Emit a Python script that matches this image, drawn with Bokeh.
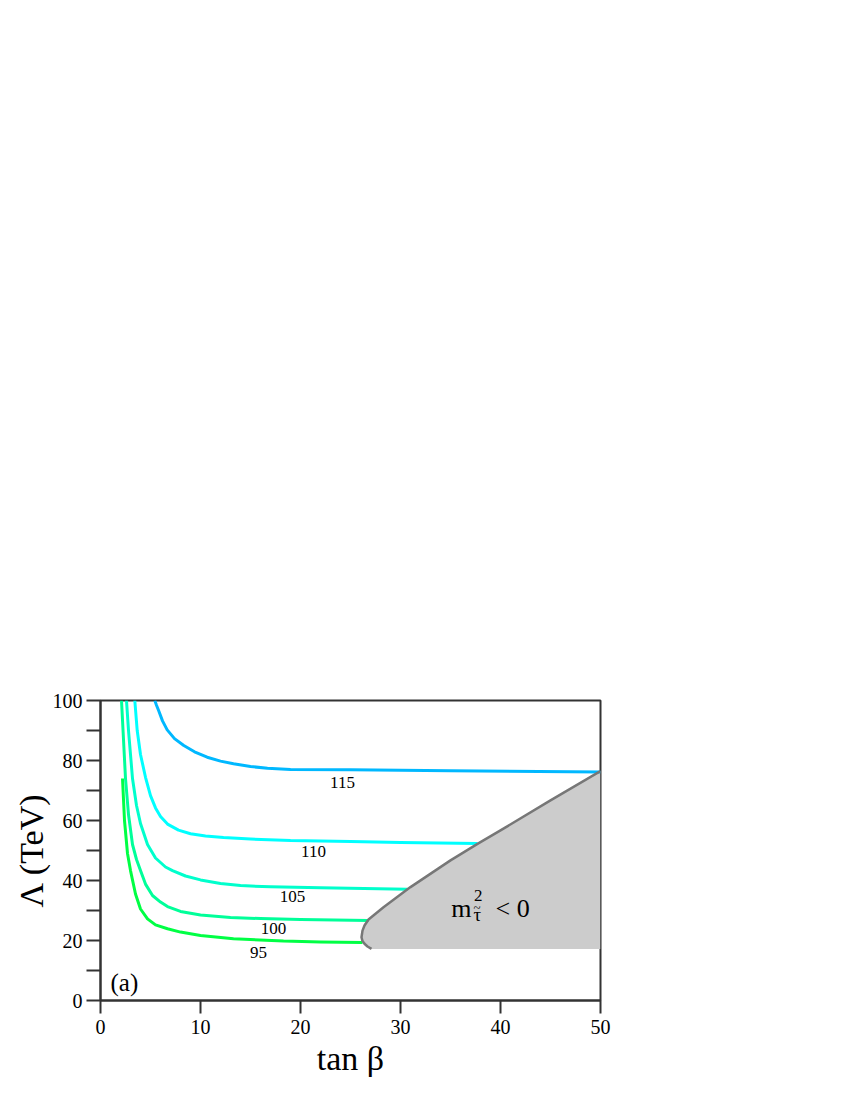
from bokeh.plotting import figure
from bokeh.models import Range1d, FixedTicker, Label
from bokeh.embed import file_html
from bokeh.resources import INLINE

# ---- data ----
x95 = [2.2, 2.4, 2.7, 3.0, 3.5, 4.0, 4.7, 5.5, 6.7, 8.0, 10.0, 13.3, 18.3, 22.0, 26.2]
y95 = [74, 60, 49, 43.3, 35.5, 30.5, 27.2, 25.2, 23.9, 22.8, 21.7, 20.6, 19.8, 19.5, 19.3]

x100 = [2.1, 2.3, 2.5, 2.8, 3.2, 3.6, 4.0, 4.5, 5.2, 6.0, 6.7, 8.0, 10.0, 13.0, 16.0, 20.0, 26.8]
y100 = [100, 87, 74, 62, 52, 47, 43.3, 38.8, 35.0, 32.8, 31.3, 29.7, 28.5, 27.7, 27.3, 27.0, 26.7]

x105 = [2.6, 2.8, 3.2, 3.6, 4.0, 4.7, 5.5, 6.5, 7.2, 8.5, 10.0, 12.0, 14.0, 17.0, 22.0, 30.7]
y105 = [100, 90, 74, 65, 59, 52, 47.5, 44.5, 43.3, 41.5, 40.2, 39.0, 38.3, 37.9, 37.6, 37.1]

x110 = [3.43, 3.67, 4.0, 4.5, 5.0, 5.5, 6.0, 6.7, 7.8, 9.0, 10.5, 12.3, 15.0, 19.0, 25.0, 30.0, 37.7]
y110 = [100, 90, 82, 74.4, 68.3, 64.2, 61.3, 58.8, 56.8, 55.6, 54.8, 54.3, 53.8, 53.3, 53.0, 52.7, 52.3]

x115 = [5.43, 5.6, 5.83, 6.2, 6.67, 7.4, 8.33, 9.4, 10.67, 12.0, 13.3, 15.0, 16.7, 19.0, 25.0, 35.0, 50.0]
y115 = [100, 98.4, 96.5, 93.2, 90.2, 87.3, 85, 82.9, 81.1, 79.8, 78.9, 78.0, 77.4, 77.0, 76.9, 76.6, 76.2]

curve_labels = ["95", "100", "105", "110", "115"]
label_x = [15.8, 17.3, 19.2, 21.3, 24.2]
label_y = [15.9, 23.9, 34.8, 49.8, 72.8]
curve_colors = ["#00ff44", "#00ff99", "#00ffcc", "#00ffff", "#00b8ff"]

bound_x = [50.0, 45.0, 40.0, 37.7, 35.0, 31.0, 28.3, 26.8, 26.4, 26.2, 26.1, 26.2, 26.4, 26.7, 27.1]
bound_y = [76.5, 66.7, 56.7, 52.2, 46.7, 37.8, 31.1, 27.0, 25.0, 23.3, 21.1, 19.8, 18.9, 18.0, 17.2]

x_ticks = [0, 10, 20, 30, 40, 50]
y_ticks = [0, 20, 40, 60, 80, 100]
y_minor = [10, 30, 50, 70, 90]

FONT = "Liberation Serif"

p = figure(output_backend="svg", toolbar_location=None,
           frame_width=500, frame_height=300,
           min_border_left=100, min_border_top=700,
           min_border_right=40, min_border_bottom=90,
           x_range=Range1d(0, 50), y_range=Range1d(0, 100))
p.grid.visible = False
p.background_fill_color = "white"
p.border_fill_color = "white"
p.outline_line_color = "#333333"
p.outline_line_width = 2

# shaded excluded region
fill_x = bound_x + [50.0]
fill_y = bound_y + [bound_y[-1]]
p.patch(fill_x, fill_y, fill_color="#cccccc", line_color=None)

curves = [(x95, y95), (x100, y100), (x105, y105), (x110, y110), (x115, y115)]
for (cx, cy), col in zip(curves, curve_colors):
    p.line(cx, cy, line_color=col, line_width=3, line_join="round")

p.line(bound_x, bound_y, line_color="#777777", line_width=2.5, line_join="round")

for t, lx, ly in zip(curve_labels, label_x, label_y):
    p.add_layout(Label(x=lx, y=ly, text=t, text_font=FONT, text_font_size="17px",
                       text_align="center", text_baseline="middle", text_color="black"))

# region label  m^2_{tau~} < 0
p.add_layout(Label(x=35.07, y=30.67, text="m", text_font=FONT, text_font_size="26px",
                   text_align="left", text_baseline="alphabetic", text_color="black"))
p.add_layout(Label(x=37.35, y=34.9, text="2", text_font=FONT, text_font_size="17px",
                   text_align="left", text_baseline="alphabetic", text_color="black"))
p.add_layout(Label(x=37.3, y=28.8, text="\u03c4", text_font=FONT, text_font_size="19px",
                   text_align="left", text_baseline="alphabetic", text_color="black"))
p.add_layout(Label(x=37.3, y=31.0, text="~", text_font=FONT, text_font_size="13px",
                   text_align="left", text_baseline="alphabetic", text_color="black"))
p.add_layout(Label(x=39.5, y=30.67, text="< 0", text_font=FONT, text_font_size="26px",
                   text_align="left", text_baseline="alphabetic", text_color="black"))

p.add_layout(Label(x=1.0, y=6.0, text="(a)", text_font=FONT, text_font_size="25px",
                   text_align="left", text_baseline="alphabetic", text_color="black"))

# axes
p.xaxis.ticker = FixedTicker(ticks=x_ticks, minor_ticks=[])
p.yaxis.ticker = FixedTicker(ticks=y_ticks, minor_ticks=y_minor)
for ax in (p.xaxis[0], p.yaxis[0]):
    ax.axis_line_color = "#333333"
    ax.axis_line_width = 2
    ax.major_tick_line_color = "#333333"
    ax.major_tick_line_width = 2
    ax.minor_tick_line_color = "#333333"
    ax.minor_tick_line_width = 2
    ax.major_tick_in = 0
    ax.major_tick_out = 14
    ax.minor_tick_in = 0
    ax.minor_tick_out = 14
    ax.major_label_text_font = FONT
    ax.major_label_text_font_size = "20px"
    ax.major_label_text_color = "black"
    ax.axis_label_text_font = FONT
    ax.axis_label_text_font_style = "normal"
    ax.axis_label_text_font_size = "34px"
    ax.axis_label_text_color = "black"

p.xaxis.major_tick_out = 13
p.xaxis.major_label_standoff = 6
p.yaxis.major_label_standoff = 4
p.xaxis.axis_label = "tan \u03b2"
p.yaxis.axis_label = "\u039b (TeV)"
p.xaxis.axis_label_standoff = 3
p.yaxis.axis_label_standoff = 0

open("out.html", "w").write(file_html(p, INLINE))
